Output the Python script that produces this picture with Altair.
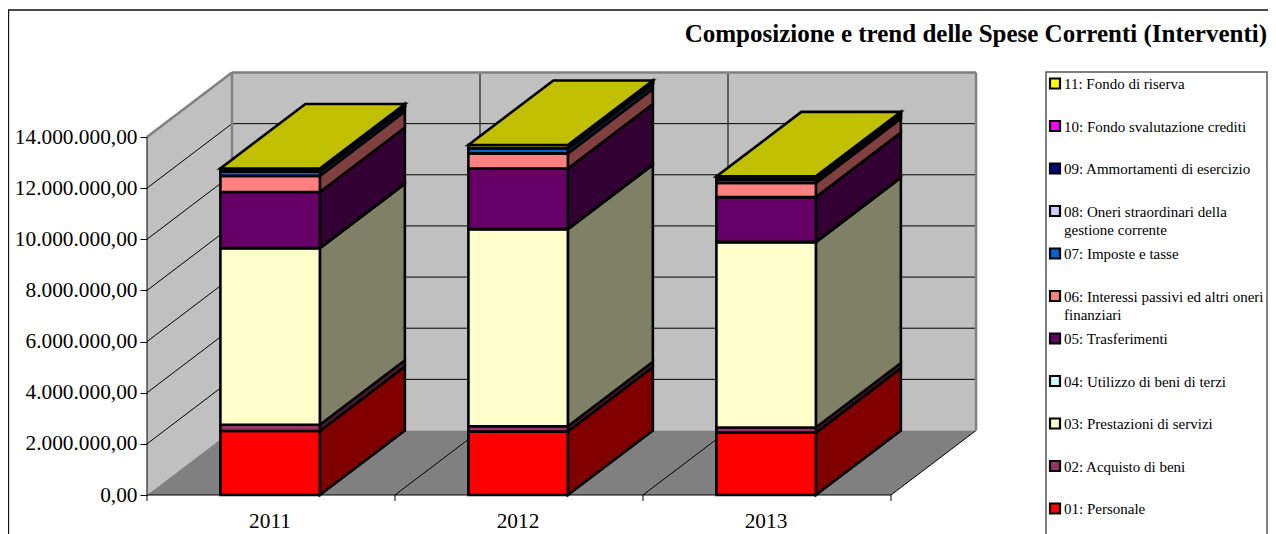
import altair as alt
import pandas as pd

years = ["2011", "2012", "2013"]
series = ["01: Personale", "02: Acquisto di beni", "03: Prestazioni di servizi",
          "04: Utilizzo di beni di terzi", "05: Trasferimenti",
          "06: Interessi passivi ed altri oneri\nfinanziari", "07: Imposte e tasse",
          "08: Oneri straordinari della\ngestione corrente", "09: Ammortamenti di esercizio",
          "10: Fondo svalutazione crediti", "11: Fondo di riserva"]
front_colors = ["#FF0000", "#993366", "#FFFFCC", "#CCFFFF", "#660066", "#FF8080",
                "#0066CC", "#CCCCFF", "#000080", "#FF00FF", "#FFFF00"]
side_colors = ["#800000", "#4D1933", "#808066", "#668080", "#330033", "#804040",
               "#003366", "#666680", "#000040", "#800080", "#808000"]
top_color = "#C0C000"
v2011 = [2500000, 250000, 6900000, 10000, 2190000, 630000, 160000, 10000, 10000, 10000, 100000]
v2012 = [2480000, 210000, 7700000, 10000, 2370000, 590000, 180000, 10000, 10000, 10000, 120000]
v2013 = [2440000, 200000, 7250000, 10000, 1750000, 550000, 20000, 110000, 10000, 10000, 110000]
values = [v2011, v2012, v2013]
y_ticks = [0, 2000000, 4000000, 6000000, 8000000, 10000000, 12000000, 14000000]

# layout: the view is the front plane of the 3D box, everything else overflows it
PAD_L, PAD_T = 139, 129
W, H = 744, 358
PAD_R, PAD_B = 1260 - PAD_L - W, 526 - PAD_T - H
DX = 85 / (W / 3)
DY = 64.5 / (H / 14e6)
BAR_L, BAR_R = 0.296, 0.697
x_scale = alt.Scale(domain=[0, 3], range=[0, W], nice=False, zero=False)
y_scale = alt.Scale(domain=[0, 14e6], range=[H, 0], nice=False, zero=False)
SERIF = "Liberation Serif"
px = lambda v: v - 8 - PAD_L
py = lambda v: v - 8 - PAD_T

x_axis = alt.Axis(
    values=[0.5, 1.5, 2.5], labelExpr="format(datum.value + 2010.5, 'd')", orient="bottom",
    domain=False, ticks=False, grid=False, title=None, labelFont=SERIF, labelFontSize=21.33,
    labelColor="black", labelPadding=15, labelOffset=-1.5, labelOverlap=False, zindex=1)
y_axis = alt.Axis(
    values=y_ticks, orient="left", domain=False, grid=False, title=None,
    tickSize=7, tickColor="black", labelFont=SERIF, labelFontSize=21.33, labelColor="black",
    labelPadding=3, labelOverlap=False, zindex=1,
    labelExpr="datum.value == 0 ? '0,00' : format(datum.value / 1000000, 'd') + '.000.000,00'")

X = lambda f="x": alt.X(f"{f}:Q", scale=x_scale, axis=x_axis)
Y = lambda f="y": alt.Y(f"{f}:Q", scale=y_scale, axis=y_axis)
X2 = lambda f="x2": alt.X2(f"{f}:Q")
Y2 = lambda f="y2": alt.Y2(f"{f}:Q")

# walls and floor
left_wall = pd.DataFrame({"x": [0, DX], "y": [0, DY], "y2": [14e6, 14e6 + DY]})
back_wall = pd.DataFrame({"x": [DX], "x2": [3 + DX], "y": [DY], "y2": [14e6 + DY]})
floor = pd.DataFrame({"y": [0, DY], "x": [0, DX], "x2": [3, 3 + DX]})

walls = [
    alt.Chart(left_wall).mark_area(color="#C0C0C0").encode(x=X(), y=Y(), y2=Y2()),
    alt.Chart(back_wall).mark_rect(color="#C0C0C0").encode(x=X(), x2=X2(), y=Y(), y2=Y2()),
    alt.Chart(floor).mark_area(color="#808080", orient="horizontal").encode(y=Y(), x=X(), x2=X2()),
]

# grid
seg = []
for i, t in enumerate(y_ticks[1:]):
    if t < 14e6:
        seg += [dict(id=f"g{i}", x=0, y=t), dict(id=f"g{i}", x=DX, y=t + DY)]
        seg += [dict(id=f"h{i}", x=DX, y=t + DY), dict(id=f"h{i}", x=3 + DX, y=t + DY)]
for k in [1, 2]:
    seg += [dict(id=f"v{k}", x=k + DX, y=DY), dict(id=f"v{k}", x=k + DX, y=14e6 + DY)]
for k in [1, 2, 3]:
    seg += [dict(id=f"f{k}", x=k, y=0), dict(id=f"f{k}", x=k + DX, y=DY)]
seg += [dict(id="ax", x=0, y=0), dict(id="ax", x=0, y=14e6)]
seg += [dict(id="bx", x=0, y=0), dict(id="bx", x=3, y=0)]
grid = alt.Chart(pd.DataFrame(seg)).mark_line(color="black", strokeWidth=1).encode(
    x=X(), y=Y(), detail="id:N", order="y:Q")

edge = [dict(id="a", x=0, y=14e6), dict(id="a", x=DX, y=14e6 + DY),
        dict(id="b", x=DX, y=14e6 + DY), dict(id="b", x=3 + DX, y=14e6 + DY),
        dict(id="c", x=DX, y=DY), dict(id="c", x=DX, y=14e6 + DY),
        dict(id="d", x=3 + DX, y=DY), dict(id="d", x=3 + DX, y=14e6 + DY)]
edges = alt.Chart(pd.DataFrame(edge)).mark_line(color="#808080", strokeWidth=2.5).encode(
    x=X(), y=Y(), detail="id:N", order="x:Q")

ticks = alt.Chart(pd.DataFrame({"x": [0, 1, 2, 3]})).mark_rule(color="black").encode(
    x=X(), y=alt.value(H), y2=alt.value(H + 6))

# bars
fronts, sides, tops = [], [], []
for k, vals in enumerate(values):
    lo = 0
    for s, v in enumerate(vals):
        hi = lo + v
        fronts.append(dict(x=k + BAR_L, x2=k + BAR_R, y=lo, y2=hi, fill=front_colors[s]))
        key = f"{k}-{s}"
        sides.append(dict(key=key, x=k + BAR_R, y=lo, y2=hi, fill=side_colors[s]))
        sides.append(dict(key=key, x=k + BAR_R + DX, y=lo + DY, y2=hi + DY, fill=side_colors[s]))
        lo = hi
    tops.append(dict(key=str(k), y=lo, x=k + BAR_L, x2=k + BAR_R))
    tops.append(dict(key=str(k), y=lo + DY, x=k + BAR_L + DX, x2=k + BAR_R + DX))

BW = 2.6
side_marks = alt.Chart(pd.DataFrame(sides)).mark_area(stroke="black", strokeWidth=BW).encode(
    x=X(), y=Y(), y2=Y2(), fill=alt.Fill("fill:N", scale=None), detail="key:N")
front_marks = alt.Chart(pd.DataFrame(fronts)).mark_rect(stroke="black", strokeWidth=BW).encode(
    x=X(), x2=X2(), y=Y(), y2=Y2(), fill=alt.Fill("fill:N", scale=None))
top_marks = alt.Chart(pd.DataFrame(tops)).mark_area(
    orient="horizontal", color=top_color, stroke="black", strokeWidth=BW).encode(
    y=Y(), x=X(), x2=X2(), detail="key:N")

# frame, title, legend
frame = alt.Chart(pd.DataFrame({"a": [0]})).mark_rect(
    fillOpacity=0, stroke="#111111", strokeWidth=1.3).encode(
    x=alt.value(px(8.5)), x2=alt.value(px(1300)), y=alt.value(py(10)), y2=alt.value(py(560)))
title = alt.Chart(pd.DataFrame({"t": ["Composizione e trend delle Spese Correnti (Interventi)"]})).mark_text(
    font=SERIF, fontWeight="bold", fontSize=25, align="right", baseline="alphabetic", color="black").encode(
    x=alt.value(px(1267)), y=alt.value(py(42)), text="t:N")
legend_box = alt.Chart(pd.DataFrame({"a": [0]})).mark_rect(
    fillOpacity=0, stroke="#555555", strokeWidth=1.5).encode(
    x=alt.value(px(1046)), x2=alt.value(px(1267)), y=alt.value(py(72)), y2=alt.value(py(560)))

legend = []
for row, s in enumerate(reversed(range(len(series)))):
    cy = 83.5 + row * 42.5
    d = pd.DataFrame({"label": [series[s]], "fill": [front_colors[s]]})
    legend.append(alt.Chart(d).mark_square(size=100, stroke="black", strokeWidth=2.2, opacity=1).encode(
        x=alt.value(px(1055)), y=alt.value(py(cy)), fill=alt.Fill("fill:N", scale=None)))
    legend.append(alt.Chart(d).mark_text(
        font=SERIF, fontSize=15, align="left", baseline="alphabetic", lineBreak="\n", lineHeight=18.5,
        color="black").encode(x=alt.value(px(1064)), y=alt.value(py(cy + 5.5)), text="label:N"))

chart = alt.layer(
    *walls, grid, edges, ticks, side_marks, front_marks, top_marks,
    frame, title, legend_box, *legend
).properties(
    width=W, height=H,
    padding={"left": PAD_L, "top": PAD_T, "right": PAD_R, "bottom": PAD_B},
    autosize=alt.AutoSizeParams(type="none"),
).configure_view(stroke=None)

chart.save("out.html", embed_options={"renderer": "svg", "actions": False})
